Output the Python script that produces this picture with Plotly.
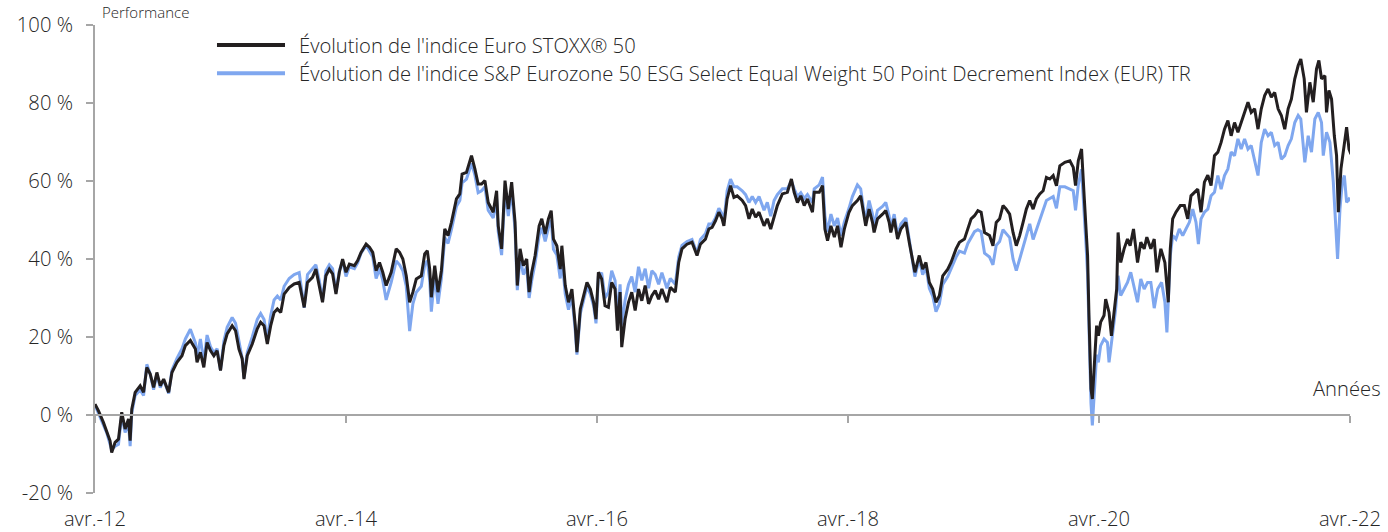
import plotly.graph_objects as go

# ---- Data (decimal years, performance in %) ----
years_stoxx = [
    2012.250, 2012.277, 2012.317, 2012.343, 2012.370, 2012.383, 2012.410, 2012.437, 2012.463, 2012.490,
    2012.517, 2012.530, 2012.543, 2012.570, 2012.610, 2012.637, 2012.663, 2012.690, 2012.717, 2012.743,
    2012.770, 2012.797, 2012.837, 2012.863, 2012.903, 2012.943, 2012.970, 2013.010, 2013.050, 2013.063,
    2013.090, 2013.117, 2013.143, 2013.170, 2013.197, 2013.223, 2013.250, 2013.277, 2013.303, 2013.343,
    2013.370, 2013.397, 2013.423, 2013.437, 2013.463, 2013.503, 2013.543, 2013.570, 2013.597, 2013.623,
    2013.650, 2013.677, 2013.703, 2013.730, 2013.757, 2013.797, 2013.837, 2013.877, 2013.890, 2013.917,
    2013.943, 2013.983, 2014.010, 2014.037, 2014.063, 2014.090, 2014.117, 2014.143, 2014.170, 2014.197,
    2014.223,
    2014.250, 2014.277, 2014.317, 2014.343, 2014.370, 2014.410, 2014.437, 2014.463, 2014.490, 2014.517,
    2014.543, 2014.570, 2014.610, 2014.650, 2014.677, 2014.703, 2014.730, 2014.757, 2014.783, 2014.810,
    2014.850, 2014.877, 2014.898, 2014.917, 2014.930, 2014.957, 2014.983, 2015.010, 2015.037, 2015.063,
    2015.090, 2015.130, 2015.157, 2015.175, 2015.210, 2015.237, 2015.250, 2015.277, 2015.303, 2015.330,
    2015.357, 2015.383, 2015.423, 2015.450, 2015.463, 2015.490, 2015.517, 2015.543, 2015.570, 2015.597,
    2015.615, 2015.637, 2015.663, 2015.690, 2015.709, 2015.730, 2015.757, 2015.789, 2015.810, 2015.837,
    2015.863, 2015.885, 2015.903, 2015.930, 2015.957, 2015.970, 2015.997, 2016.023, 2016.050, 2016.077,
    2016.090, 2016.117, 2016.143, 2016.170, 2016.197, 2016.223, 2016.242,
    2016.261, 2016.287, 2016.314, 2016.341, 2016.367, 2016.394, 2016.413, 2016.434, 2016.447, 2016.474,
    2016.501, 2016.527, 2016.554, 2016.581, 2016.607, 2016.634, 2016.661, 2016.687, 2016.714, 2016.741,
    2016.767, 2016.807, 2016.834, 2016.874, 2016.901, 2016.927, 2016.967, 2017.007, 2017.047, 2017.074,
    2017.114, 2017.141, 2017.167, 2017.194, 2017.221, 2017.247, 2017.261, 2017.287, 2017.314, 2017.341,
    2017.367, 2017.407, 2017.434, 2017.461, 2017.487, 2017.514, 2017.541, 2017.581, 2017.607, 2017.634,
    2017.661, 2017.687, 2017.727, 2017.767, 2017.799, 2017.821, 2017.847, 2017.874, 2017.901, 2017.927,
    2017.967, 2017.981, 2018.021, 2018.047, 2018.066, 2018.087, 2018.114, 2018.141, 2018.167, 2018.194,
    2018.221,
    2018.258, 2018.285, 2018.325, 2018.351, 2018.378, 2018.391, 2018.418, 2018.445, 2018.458, 2018.485,
    2018.525, 2018.551, 2018.578, 2018.591, 2018.618, 2018.645, 2018.671, 2018.711, 2018.738, 2018.765,
    2018.783, 2018.818, 2018.845, 2018.871, 2018.898, 2018.925, 2018.951, 2018.978, 2019.005, 2019.045,
    2019.071, 2019.111, 2019.138, 2019.178, 2019.205, 2019.231, 2019.258, 2019.285, 2019.311, 2019.338,
    2019.378, 2019.405, 2019.431, 2019.458, 2019.485, 2019.511, 2019.538, 2019.565, 2019.591, 2019.618,
    2019.645, 2019.671, 2019.698, 2019.725, 2019.751, 2019.778, 2019.805, 2019.831, 2019.858, 2019.885,
    2019.911, 2019.938, 2019.978, 2020.018, 2020.045, 2020.063, 2020.085, 2020.111, 2020.133, 2020.146,
    2020.159, 2020.170, 2020.186, 2020.197, 2020.213, 2020.231, 2020.245,
    2020.263, 2020.290, 2020.303, 2020.330, 2020.349, 2020.370, 2020.391, 2020.402, 2020.423, 2020.450,
    2020.477, 2020.498, 2020.525, 2020.557, 2020.583, 2020.610, 2020.631, 2020.663, 2020.690, 2020.711,
    2020.743, 2020.775, 2020.802, 2020.818, 2020.837, 2020.863, 2020.898, 2020.930, 2020.957, 2020.983,
    2021.010, 2021.037, 2021.063, 2021.090, 2021.117, 2021.143, 2021.170, 2021.197, 2021.223, 2021.250,
    2021.277, 2021.303, 2021.330, 2021.357, 2021.383, 2021.410, 2021.437, 2021.463, 2021.490, 2021.517,
    2021.543, 2021.570, 2021.597, 2021.623, 2021.650, 2021.677, 2021.703, 2021.730, 2021.757, 2021.783,
    2021.810, 2021.837, 2021.858, 2021.885, 2021.903, 2021.930, 2021.957, 2021.983, 2022.002, 2022.023,
    2022.050, 2022.063, 2022.082, 2022.103, 2022.125, 2022.143, 2022.157, 2022.178, 2022.197, 2022.223,
    2022.242, 2022.258,
]
perf_stoxx = [
    2.8, 1.1, -1.9, -4.0, -6.6, -9.6, -7.0, -6.2, 0.7, -3.6,
    -1.0, -6.6, 1.5, 5.8, 7.5, 5.8, 12.2, 10.5, 7.1, 10.9,
    7.5, 9.2, 5.8, 10.9, 13.5, 15.2, 17.8, 19.1, 16.9, 13.5,
    16.1, 12.2, 18.6, 16.5, 15.2, 16.5, 11.4, 17.8, 20.8, 22.9,
    21.6, 16.9, 14.4, 9.2, 15.2, 18.2, 22.1, 23.8, 22.9, 18.2,
    22.9, 26.3, 27.2, 26.3, 31.0, 32.7, 33.6, 34.0, 31.9, 27.6,
    34.0, 35.3, 37.4, 33.2, 28.9, 35.7, 37.4, 36.2, 31.0, 36.6,
    40.0,
    36.6, 38.7, 38.3, 39.6, 41.7, 43.8, 43.0, 41.7, 37.0, 39.1,
    36.6, 33.2, 36.6, 42.6, 41.7, 40.0, 35.7, 28.9, 31.5, 34.9,
    35.7, 41.3, 42.1, 37.4, 30.2, 38.3, 31.5, 37.0, 47.7, 46.0,
    49.4, 55.4, 56.7, 61.8, 62.2, 64.8, 66.5, 63.1, 59.2, 59.2,
    60.1, 54.5, 52.0, 57.5, 48.5, 42.6, 60.1, 52.8, 59.7, 49.4,
    33.2, 42.6, 38.3, 40.0, 31.5, 36.6, 40.9, 48.5, 50.3, 46.4,
    50.3, 52.4, 45.1, 43.4, 37.4, 43.4, 33.2, 28.9, 32.3, 22.9,
    16.1, 27.2, 30.6, 34.0, 32.3, 28.9, 24.6,
    36.6, 34.9, 28.0, 27.6, 34.0, 32.3, 21.6, 31.5, 17.4, 24.6,
    28.9, 31.5, 26.8, 32.3, 29.3, 33.2, 28.5, 30.6, 31.9, 29.7,
    32.3, 28.9, 32.7, 31.5, 39.1, 42.6, 43.8, 44.3, 40.9, 43.8,
    45.1, 47.7, 48.1, 49.8, 52.0, 50.3, 48.5, 55.4, 58.8, 55.8,
    56.2, 55.0, 53.7, 50.3, 52.8, 50.7, 52.0, 48.5, 50.3, 47.7,
    51.1, 53.7, 56.7, 57.1, 60.5, 57.1, 54.5, 56.2, 53.7, 55.4,
    52.0, 57.1, 57.1, 58.8, 47.7, 44.7, 48.5, 45.6, 48.5, 43.0,
    47.7,
    52.0, 53.7, 55.0, 56.2, 50.3, 48.5, 52.8, 49.4, 46.8, 50.3,
    51.5, 52.4, 49.4, 46.8, 50.3, 45.1, 47.7, 49.4, 44.3, 39.1,
    36.6, 40.9, 37.4, 39.1, 34.0, 32.3, 28.9, 30.6, 35.7, 37.4,
    39.1, 42.6, 44.3, 45.1, 47.7, 50.3, 51.1, 52.4, 52.0, 46.8,
    46.0, 43.4, 49.4, 50.3, 53.7, 52.8, 51.5, 46.8, 43.4, 46.0,
    49.4, 52.8, 55.0, 52.8, 55.4, 56.7, 57.5, 60.9, 60.5, 61.4,
    58.8, 63.9, 64.8, 65.2, 63.5, 58.8, 65.2, 68.2, 55.4, 47.7,
    40.9, 25.5, 6.7, 4.1, 11.8, 22.9, 20.3,
    23.8, 25.5, 29.7, 26.3, 20.3, 26.3, 32.3, 46.8, 39.1, 42.6,
    45.1, 43.4, 47.7, 39.1, 44.3, 42.6, 45.6, 42.6, 45.1, 36.6,
    42.6, 39.1, 28.9, 42.6, 50.3, 52.0, 53.7, 53.7, 50.3, 56.2,
    57.1, 57.9, 52.0, 59.7, 61.5, 58.8, 66.5, 67.4, 69.9, 73.3,
    75.5, 71.6, 75.0, 72.5, 75.0, 77.6, 80.2, 77.6, 78.5, 73.3,
    78.5, 81.9, 83.6, 81.5, 82.7, 78.5, 76.8, 73.3, 78.5, 81.0,
    86.2, 89.6, 91.3, 86.2, 77.6, 85.3, 80.2, 88.7, 90.9, 86.2,
    87.0, 77.6, 83.2, 81.0, 71.6, 66.5, 52.0, 63.1, 68.2, 73.8,
    68.2, 66.9,
]

years_esg = [
    2012.250, 2012.277, 2012.317, 2012.343, 2012.370, 2012.383, 2012.410, 2012.437, 2012.463, 2012.490,
    2012.517, 2012.530, 2012.543, 2012.570, 2012.610, 2012.637, 2012.663, 2012.690, 2012.717, 2012.743,
    2012.770, 2012.797, 2012.837, 2012.863, 2012.903, 2012.943, 2012.970, 2013.010, 2013.050, 2013.063,
    2013.090, 2013.117, 2013.143, 2013.170, 2013.197, 2013.223, 2013.250, 2013.277, 2013.303, 2013.343,
    2013.370, 2013.397, 2013.423, 2013.437, 2013.463, 2013.503, 2013.543, 2013.570, 2013.597, 2013.623,
    2013.650, 2013.677, 2013.703, 2013.730, 2013.757, 2013.797, 2013.837, 2013.877, 2013.890, 2013.917,
    2013.943, 2013.983, 2014.010, 2014.037, 2014.063, 2014.090, 2014.117, 2014.143, 2014.170, 2014.197,
    2014.223,
    2014.250, 2014.277, 2014.317, 2014.343, 2014.370, 2014.410, 2014.437, 2014.463, 2014.490, 2014.517,
    2014.543, 2014.570, 2014.610, 2014.650, 2014.677, 2014.703, 2014.730, 2014.757, 2014.783, 2014.810,
    2014.850, 2014.877, 2014.898, 2014.917, 2014.930, 2014.957, 2014.983, 2015.010, 2015.037, 2015.063,
    2015.090, 2015.130, 2015.157, 2015.175, 2015.210, 2015.237, 2015.250, 2015.277, 2015.303, 2015.330,
    2015.357, 2015.383, 2015.423, 2015.450, 2015.463, 2015.490, 2015.517, 2015.543, 2015.570, 2015.597,
    2015.615, 2015.637, 2015.663, 2015.690, 2015.709, 2015.730, 2015.757, 2015.789, 2015.810, 2015.837,
    2015.863, 2015.885, 2015.903, 2015.930, 2015.957, 2015.970, 2015.997, 2016.023, 2016.050, 2016.077,
    2016.090, 2016.117, 2016.143, 2016.170, 2016.197, 2016.223, 2016.242,
    2016.261, 2016.287, 2016.314, 2016.341, 2016.367, 2016.394, 2016.413, 2016.434, 2016.447, 2016.474,
    2016.501, 2016.527, 2016.554, 2016.581, 2016.607, 2016.634, 2016.661, 2016.687, 2016.714, 2016.741,
    2016.767, 2016.807, 2016.834, 2016.874, 2016.901, 2016.927, 2016.967, 2017.007, 2017.047, 2017.074,
    2017.114, 2017.141, 2017.167, 2017.194, 2017.221, 2017.247, 2017.261, 2017.287, 2017.314, 2017.341,
    2017.367, 2017.407, 2017.434, 2017.461, 2017.487, 2017.514, 2017.541, 2017.581, 2017.607, 2017.634,
    2017.661, 2017.687, 2017.727, 2017.767, 2017.799, 2017.821, 2017.847, 2017.874, 2017.901, 2017.927,
    2017.967, 2017.981, 2018.021, 2018.047, 2018.066, 2018.087, 2018.114, 2018.141, 2018.167, 2018.194,
    2018.221,
    2018.258, 2018.285, 2018.325, 2018.351, 2018.378, 2018.391, 2018.418, 2018.445, 2018.458, 2018.485,
    2018.525, 2018.551, 2018.578, 2018.591, 2018.618, 2018.645, 2018.671, 2018.711, 2018.738, 2018.765,
    2018.783, 2018.818, 2018.845, 2018.871, 2018.898, 2018.925, 2018.951, 2018.978, 2019.005, 2019.045,
    2019.071, 2019.111, 2019.138, 2019.178, 2019.205, 2019.231, 2019.258, 2019.285, 2019.311, 2019.338,
    2019.378, 2019.405, 2019.431, 2019.458, 2019.485, 2019.511, 2019.538, 2019.565, 2019.591, 2019.618,
    2019.645, 2019.671, 2019.698, 2019.725, 2019.751, 2019.778, 2019.805, 2019.831, 2019.858, 2019.885,
    2019.911, 2019.938, 2019.978, 2020.018, 2020.045, 2020.063, 2020.085, 2020.111, 2020.133, 2020.146,
    2020.159, 2020.170, 2020.186, 2020.197, 2020.213, 2020.231, 2020.245,
    2020.263, 2020.290, 2020.317, 2020.330, 2020.349, 2020.383, 2020.402, 2020.423, 2020.450, 2020.477,
    2020.503, 2020.530, 2020.557, 2020.583, 2020.610, 2020.637, 2020.663, 2020.690, 2020.717, 2020.749,
    2020.775, 2020.791, 2020.818, 2020.837, 2020.863, 2020.890, 2020.917, 2020.943, 2020.970, 2020.997,
    2021.023, 2021.042, 2021.063, 2021.090, 2021.117, 2021.143, 2021.170, 2021.197, 2021.223, 2021.250,
    2021.277, 2021.303, 2021.330, 2021.357, 2021.383, 2021.410, 2021.437, 2021.463, 2021.490, 2021.517,
    2021.543, 2021.570, 2021.597, 2021.623, 2021.650, 2021.677, 2021.703, 2021.730, 2021.757, 2021.783,
    2021.810, 2021.837, 2021.858, 2021.890, 2021.917, 2021.943, 2021.970, 2021.997, 2022.023, 2022.037,
    2022.063, 2022.090, 2022.117, 2022.135, 2022.151, 2022.170, 2022.189, 2022.205, 2022.223, 2022.242,
    2022.258,
]
perf_esg = [
    2.5, 0.5, -2.5, -4.5, -7.5, -9.0, -8.0, -7.5, 0.0, -4.5,
    -2.0, -8.0, 0.5, 5.0, 6.5, 5.0, 13.0, 10.5, 6.5, 10.5,
    7.0, 9.0, 5.5, 11.5, 14.5, 17.0, 19.5, 22.0, 18.5, 15.0,
    19.5, 13.5, 20.5, 17.5, 16.0, 17.0, 11.5, 19.0, 22.5, 25.0,
    23.5, 18.5, 14.5, 9.5, 16.0, 20.0, 24.5, 26.0, 24.5, 19.5,
    25.5, 29.5, 30.5, 29.5, 33.0, 35.0, 36.0, 36.5, 33.5, 27.5,
    36.0, 37.5, 38.5, 34.5, 29.5, 37.0, 38.5, 37.5, 31.5, 37.0,
    39.5,
    35.5, 38.0, 37.5, 39.0, 41.5, 43.5, 42.0, 40.5, 35.0, 37.5,
    34.5, 29.5, 34.0, 39.5, 38.5, 37.0, 33.0, 21.5, 28.5, 31.5,
    33.0, 38.5, 39.5, 34.5, 26.5, 36.0, 28.5, 35.0, 45.5, 44.0,
    47.5, 53.5, 55.0, 59.5, 60.5, 63.0, 64.5, 61.5, 57.0, 57.5,
    58.5, 52.5, 50.5, 55.5, 47.0, 41.0, 58.0, 51.0, 57.5, 47.5,
    32.0, 40.5, 36.0, 38.0, 30.0, 34.5, 39.0, 46.0, 48.0, 44.5,
    48.0, 50.0, 42.5, 41.0, 35.0, 40.5, 31.0, 27.0, 30.5, 21.5,
    15.5, 26.0, 29.5, 33.0, 31.0, 28.0, 23.5,
    35.5, 36.5, 30.0, 31.5, 37.0, 34.5, 25.0, 33.5, 23.0, 29.5,
    33.5, 35.5, 31.5, 38.0, 34.5, 37.5, 32.5, 37.0, 36.0, 33.5,
    36.5, 32.5, 35.0, 33.5, 40.5, 43.5, 44.5, 45.0, 41.5, 45.0,
    46.5, 49.0, 49.0, 50.5, 53.0, 51.5, 49.5, 57.5, 60.5, 58.5,
    58.5, 57.5, 56.5, 54.5, 56.0, 54.5, 56.0, 52.5, 54.5, 51.0,
    55.0, 56.5, 58.0, 58.0, 60.0, 58.0, 56.0, 57.0, 55.5, 56.5,
    54.5, 58.0, 59.0, 61.0, 51.0, 47.0, 51.5, 48.5, 50.5, 46.0,
    49.5,
    53.0, 56.0, 59.0, 58.0, 52.0, 50.0, 55.0, 51.5, 48.5, 52.5,
    53.5, 54.5, 51.0, 48.0, 51.5, 46.0, 49.0, 50.5, 45.0, 38.5,
    35.5, 40.0, 36.0, 38.0, 32.5, 30.5, 26.5, 28.5, 33.5, 35.5,
    37.5, 40.5, 42.0, 41.5, 44.0, 45.5, 47.0, 47.5, 47.0, 41.5,
    40.5, 38.5, 43.5, 44.5, 47.5, 46.5, 45.5, 40.0, 37.0, 40.0,
    43.0, 46.5, 49.0, 45.0, 47.5, 50.5, 53.0, 55.0, 55.5, 56.0,
    53.0, 58.5, 58.5, 58.0, 57.5, 52.5, 59.0, 63.0, 52.0, 44.0,
    36.0, 20.0, 3.0, -2.7, 7.0, 15.5, 13.5,
    17.8, 19.5, 18.6, 13.5, 18.6, 27.2, 35.7, 30.6, 32.3, 34.0,
    36.6, 32.3, 28.9, 34.9, 32.3, 34.0, 34.0, 27.4, 32.3, 34.0,
    28.9, 21.2, 40.9, 46.0, 45.1, 47.7, 46.0, 47.7, 49.4, 52.8,
    49.4, 43.8, 50.3, 52.0, 52.8, 56.2, 57.1, 61.4, 57.9, 61.4,
    63.1, 67.4, 66.5, 70.8, 68.2, 70.8, 68.2, 69.1, 64.8, 61.4,
    69.9, 73.3, 71.6, 72.5, 69.1, 69.9, 65.6, 66.5, 69.1, 70.8,
    75.0, 76.8, 75.9, 64.8, 71.6, 67.4, 75.9, 77.6, 75.0, 66.5,
    72.5, 69.9, 59.7, 49.4, 40.0, 52.8, 59.7, 61.4, 54.5, 55.4,
    55.0,
]

tick_years = [2012.25, 2014.25, 2016.25, 2018.25, 2020.25, 2022.25]
tick_labels = ["avr.-12", "avr.-14", "avr.-16", "avr.-18", "avr.-20", "avr.-22"]
y_ticks = [-20, 0, 20, 40, 60, 80, 100]
y_tick_labels = ["-20 %", "0 %", "20 %", "40 %", "60 %", "80 %", "100 %"]

name_stoxx = "Évolution de l'indice Euro STOXX® 50"
name_esg = ("Évolution de l'indice S&P Eurozone 50 ESG Select Equal Weight 50 "
            "Point Decrement Index (EUR) TR")

BLACK = "#231f20"
BLUE = "#7fa7ef"
AXIS = "#a6a6a6"
TEXT = "#262626"
FONT = "Open Sans"
TXT = dict(family=FONT, size=20.2, color=TEXT, weight=300)

fig = go.Figure()
fig.add_trace(go.Scatter(x=years_esg, y=perf_esg, mode="lines", name=name_esg,
                         line=dict(color=BLUE, width=3), xaxis="x", yaxis="y",
                         showlegend=False))
fig.add_trace(go.Scatter(x=years_stoxx, y=perf_stoxx, mode="lines", name=name_stoxx,
                         line=dict(color=BLACK, width=3), xaxis="x2", yaxis="y",
                         showlegend=False))

xrange = [tick_years[0], tick_years[-1]]

fig.update_layout(
    width=1388, height=532,
    margin=dict(l=95, r=38, t=25, b=39, autoexpand=False),
    paper_bgcolor="white", plot_bgcolor="white",
    font=TXT,
    xaxis=dict(range=xrange, tickvals=tick_years, ticktext=tick_labels,
               showline=False, showgrid=False, zeroline=False, ticks="",
               automargin=False, ticklabelstandoff=12, tickfont=TXT),
    xaxis2=dict(range=xrange, tickvals=tick_years, overlaying="x", anchor="free",
                position=1 / 6, side="bottom", showline=True, linecolor=AXIS,
                linewidth=2, ticks="outside", ticklen=7, tickwidth=2,
                tickcolor=AXIS, showticklabels=False, showgrid=False,
                zeroline=False, automargin=False),
    yaxis=dict(range=[-20, 100], tickvals=y_ticks, ticktext=y_tick_labels,
               showline=True, linecolor=AXIS, linewidth=2, ticks="outside",
               ticklen=7, tickwidth=2, tickcolor=AXIS, showgrid=False,
               zeroline=False, automargin=False, ticklabelstandoff=9,
               tickfont=TXT),
)

# Manual legend (long line samples)
legend_rows = [(name_stoxx, BLACK, 0.957), (name_esg, BLUE, 0.897)]
for label, color, ypos in legend_rows:
    fig.add_shape(type="line", xref="paper", yref="paper",
                  x0=0.0972, x1=0.1514, y0=ypos, y1=ypos,
                  line=dict(color=color, width=4))
    fig.add_annotation(text=label, xref="paper", yref="paper", x=0.1610, y=ypos,
                       xanchor="left", yanchor="middle", showarrow=False,
                       font=TXT)

# Axis title (top-left, kept clear of the "100 %" tick label)
fig.add_annotation(text="Performance", xref="paper", yref="paper",
                   x=0.004, y=1.0534, xanchor="left", yanchor="top",
                   showarrow=False,
                   font=dict(family=FONT, size=15, color=TEXT, weight=300))
fig.add_annotation(text="Années", xref="paper", yref="paper",
                   x=1.0263, y=0.224, xanchor="right", yanchor="middle",
                   showarrow=False, font=TXT)

fig.write_html("out.html", config={"displayModeBar": False},
               post_script="document.body.style.margin='0';document.body.style.padding='0';")
